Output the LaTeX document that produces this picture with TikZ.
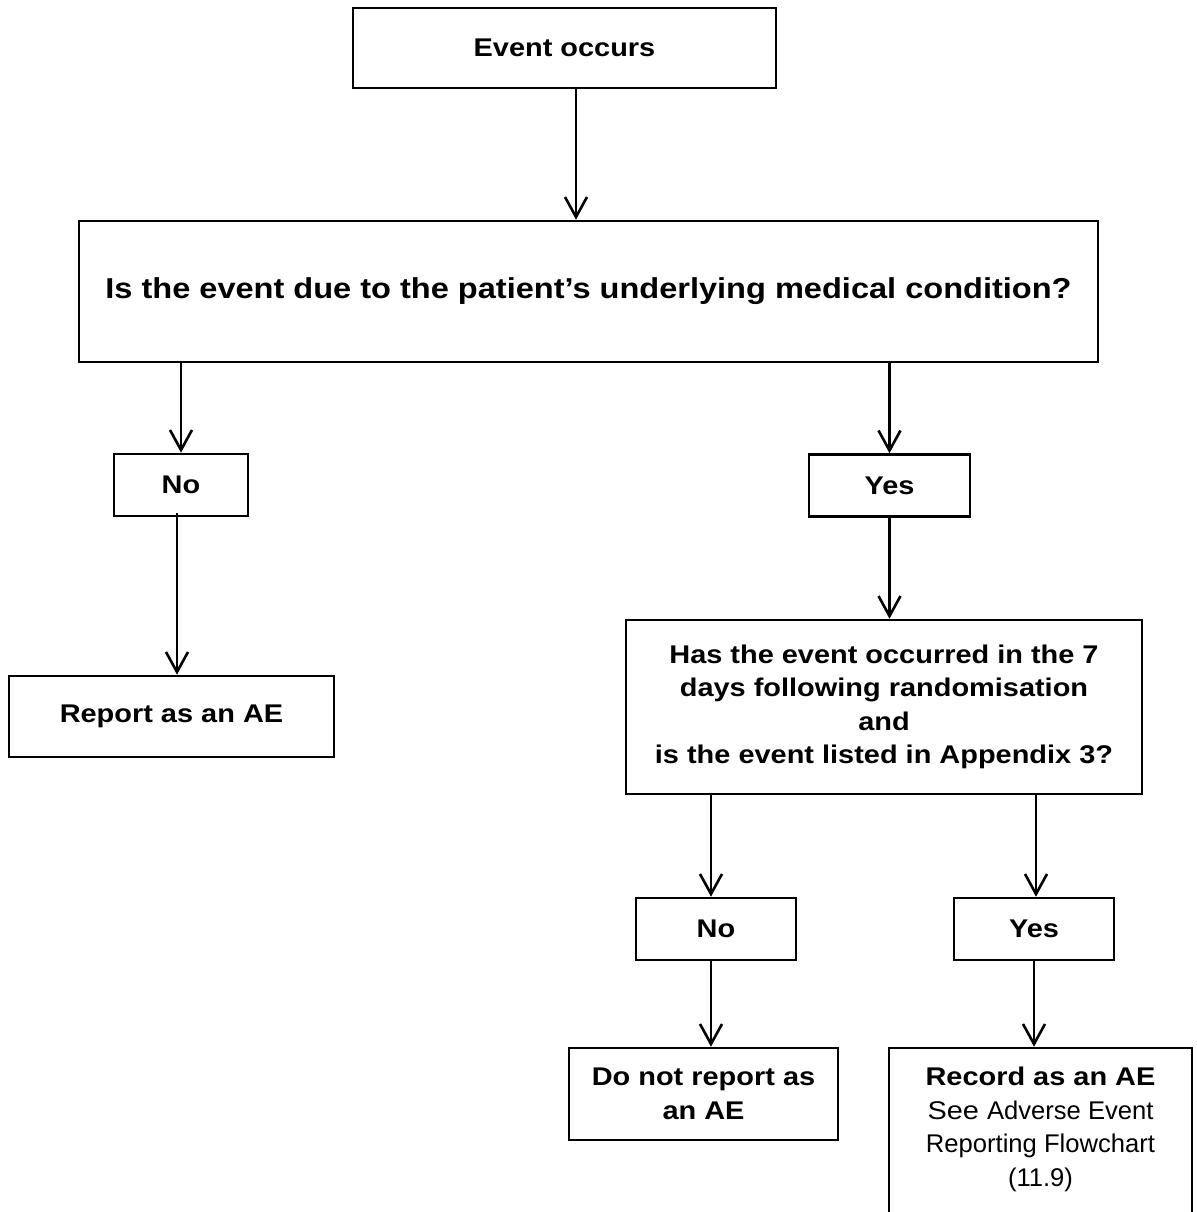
\documentclass[tikz,border=0pt]{standalone}
\usepackage{fontspec}
\setmainfont{Liberation Sans}[FakeStretch=1.13]
\newfontfamily\narrowfont{Liberation Sans}[FakeStretch=1.0]
\newcommand\nrw{\mdseries\narrowfont}
\usetikzlibrary{arrows.meta}
\tikzset{box/.style={draw,line width=1.3pt,align=center,inner sep=0pt,font=\fontsize{12.8}{16.75}\selectfont\bfseries},
  arr/.style={line width=1.3pt,-{Straight Barb[length=10pt,width=11pt,line width=1.3pt]}}}

\begin{document}
\begin{tikzpicture}[x=0.5pt,y=-0.5pt]
            \useasboundingbox (0,0) rectangle (1196,1212);
            \node[box,minimum width=211.5pt,minimum height=40pt] (event) at (564.5,48) {Event occurs};
            \node[box,minimum width=509.5pt,minimum height=70.5pt,font=\fontsize{14.4}{18}\selectfont\bfseries] (cond) at (588.5,291.5) {Is the event due to the patient’s underlying medical condition?};

            \node[box,minimum width=67pt,minimum height=31pt] (no1) at (181,485) {No};
            \node[box,minimum width=80.5pt,minimum height=31pt] (yes1) at (889.5,485.5) {Yes};
            \node[box,minimum width=162.5pt,minimum height=40.5pt] (report) at (171.5,716.5) {Report as an AE};
            \node[box,minimum width=258pt,minimum height=87pt] (days) at (884,707) {Has the event occurred in the 7\\days following randomisation\\and\\is the event listed in Appendix 3?};

            \node[box,minimum width=80pt,minimum height=31pt] (no2) at (716,929) {No};
            \node[box,minimum width=80pt,minimum height=31pt] (yes2) at (1034,929) {Yes};
            \node[box,minimum width=134.5pt,minimum height=46pt] (donot) at (703.5,1094) {Do not report as\\an AE};
            \node[box,minimum width=151.5pt,minimum height=88pt] (record) at (1040.5,1136) {};
            \node[box,draw=none,anchor=north] (recordtxt) at (1040.5,1066) {Record as an AE\\\mdseries See {\narrowfont Adverse Event}\\\nrw Reporting Flowchart\\\nrw (11.9)};

            \draw[arr] ([xshift=5.75pt]event.south) -- ([xshift=5.75pt]event.south |- cond.north);
            \draw[arr] (no1.north |- cond.south) -- (no1.north);
            \draw[arr] (yes1.north |- cond.south) -- (yes1.north);
            \draw[arr] ([xshift=-2pt,yshift=2pt]no1.south) -- ([xshift=-2pt]no1.south |- report.north);
            \draw[arr] (yes1.south) -- (yes1.south |- days.north);
            \draw[arr] ([xshift=-2.5pt]no2.north |- days.south) -- ([xshift=-2.5pt]no2.north);
            \draw[arr] ([xshift=1pt]yes2.north |- days.south) -- ([xshift=1pt]yes2.north);
            \draw[arr] ([xshift=-2.5pt]no2.south) -- ([xshift=-2.5pt]no2.south |- donot.north);
            \draw[arr] (yes2.south) -- (yes2.south |- record.north);
\end{tikzpicture}
\end{document}
